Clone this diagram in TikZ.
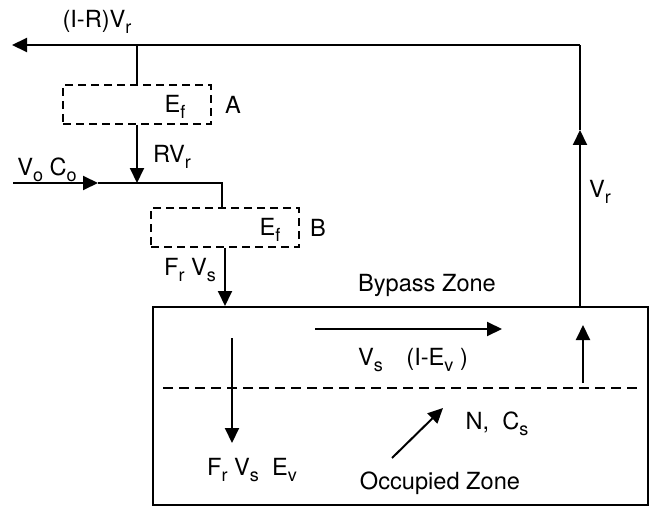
\documentclass[tikz,border=0pt]{standalone}
\usepackage{fontspec}
\setmainfont{TeX Gyre Heros}
\usetikzlibrary{arrows.meta,positioning}
\newcommand{\sub}[1]{\raisebox{-0.45ex}{\fontsize{9}{10}\selectfont #1}}
\tikzset{
  filterbox/.style={draw,dash pattern=on 4pt off 2.5pt,minimum width=74pt,minimum height=19.5pt,inner sep=0pt},
  zonebox/.style={draw,minimum width=247.5pt,minimum height=99pt,inner sep=0pt},
  lbl/.style={inner sep=1pt}
}

\begin{document}
\begin{tikzpicture}[x=0.5pt,y=-0.5pt,line width=1pt,>={Triangle[length=7.5pt,width=7pt]},
  font=\fontsize{11.8}{13}\selectfont]
\useasboundingbox (0,0) rectangle (653,508);

% filters and room
\node[filterbox] (A) at (137,104.5) {};
\node[filterbox] (B) at (225,227.5) {};
\node[zonebox] (zone) at (400.5,406) {};

\coordinate (exit) at (12,45);
\coordinate (corner) at (580,45);
\coordinate (retmid) at (580,130);
\coordinate (inlet) at (13,183);
\coordinate (inmid) at (98,183);
\coordinate (knee) at (222,183);

% return and exhaust
\draw[->] (zone.north -| retmid) -- (retmid);
\draw (retmid) -- (corner);
\draw[->] (corner) -- (exit);
\draw (A.north |- corner) -- (A.north);

% recirculation and supply
\draw[->] (A.south) -- (A.south |- inlet);
\draw[->] (inlet) -- (inmid);
\draw (inmid) -- (knee) -- (knee |- B.north);
\draw[->] (B.south) -- (B.south |- zone.north);

% inside the room
\coordinate (byL) at (315,329);
\coordinate (byR) at (502,329);
\coordinate (upB) at (583,383);
\coordinate (upT) at (583,325);
\coordinate (dnT) at (232,338);
\coordinate (dnB) at (232,443);
\coordinate (dgB) at (392,458);
\coordinate (dgT) at (443,408);
\draw[->] (byL) -- (byR);
\draw[->] (upB) -- (upT);
\draw[->] (dnT) -- (dnB);
\draw[->] (dgB) -- (dgT);
\draw[dash pattern=on 5pt off 3pt] (163,388) -- (638,388);

% labels
\node[lbl] (lexh) at (97,22) {(I-R)V\sub{r}};
\node[lbl] (lEfA) at (175,107) {E\sub{f}};
\node[lbl] (lA) at (233,105) {A};
\node[lbl] (lrec) at (172,157) {RV\sub{r}};
\node[lbl] (lin) at (47,170) {V\sub{o} C\sub{o}};
\node[lbl] (lEfB) at (270,230) {E\sub{f}};
\node[lbl] (lB) at (318,228) {B};
\node[lbl] (lsup) at (190,270) {F\sub{r} V\sub{s}};
\node[lbl] (lret) at (600,192) {V\sub{r}};
\node[lbl] (lbyz) at (427,285) {Bypass Zone};
\node[lbl] (lby) at (413,360) {V\sub{s}\quad(I-E\sub{v} )};
\node[lbl] (ldn) at (252,470) {F\sub{r} V\sub{s}\ \ E\sub{v}};
\node[lbl] (lN) at (497,424) {N,\ \ C\sub{s}};
\node[lbl] (locz) at (440,483) {Occupied Zone};
\end{tikzpicture}
\end{document}
